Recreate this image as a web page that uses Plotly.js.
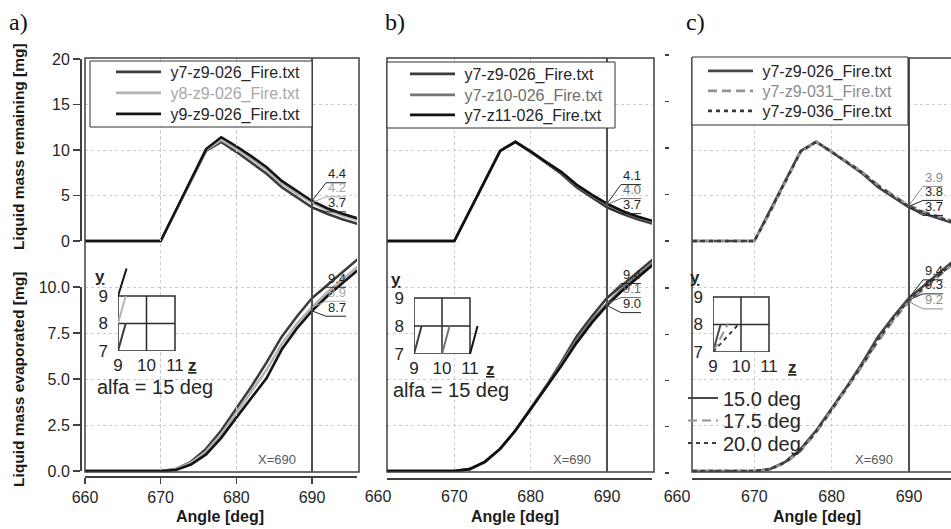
<!DOCTYPE html>
<html><head><meta charset="utf-8">
<script src="https://cdn.plot.ly/plotly-3.0.1.min.js"></script>
<style>body{margin:0;background:#fff}#chart{width:951px;height:529px}</style>
</head><body><div id="chart"></div>
<script>
// ---------------- DATA ----------------
const angle = [660, 670, 672, 674, 676, 678, 680, 682, 684, 686, 688, 690, 692, 694, 696];

// Liquid mass remaining [mg]
const rem_y7z9_026  = [0, 0, 3.3, 6.6, 9.9, 10.9, 9.8, 8.6, 7.4, 5.9, 4.8, 3.7, 3.0, 2.4, 1.9];
const rem_y8z9_026  = [0, 0, 3.3, 6.65, 10.0, 11.1, 10.1, 9.0, 7.8, 6.3, 5.2, 4.2, 3.4, 2.8, 2.3];
const rem_y9z9_026  = [0, 0, 3.35, 6.7, 10.1, 11.4, 10.4, 9.3, 8.1, 6.6, 5.5, 4.4, 3.6, 3.0, 2.5];
const rem_y7z10_026 = [0, 0, 3.3, 6.6, 9.9, 10.9, 9.8, 8.65, 7.55, 6.1, 5.0, 4.0, 3.2, 2.6, 2.1];
const rem_y7z11_026 = [0, 0, 3.3, 6.6, 9.9, 10.9, 9.85, 8.7, 7.6, 6.2, 5.1, 4.1, 3.3, 2.7, 2.2];
const rem_y7z9_031  = [0, 0, 3.1, 6.4, 9.8, 10.9, 9.85, 8.7, 7.55, 6.15, 5.0, 3.9, 3.2, 2.6, 2.1];
const rem_y7z9_036  = [0, 0, 3.2, 6.5, 9.85, 10.9, 9.8, 8.65, 7.5, 6.05, 4.9, 3.8, 3.1, 2.5, 2.0];

// Liquid mass evaporated [mg]
const evap_y7z9_026  = [0, 0, 0.1, 0.5, 1.2, 2.2, 3.4, 4.6, 5.9, 7.3, 8.4, 9.4, 10.1, 10.8, 11.5];
const evap_y8z9_026  = [0, 0, 0.08, 0.45, 1.05, 2.0, 3.15, 4.3, 5.5, 6.9, 8.0, 8.9, 9.7, 10.4, 11.1];
const evap_y9z9_026  = [0, 0, 0.05, 0.35, 0.9, 1.8, 2.9, 3.95, 5.05, 6.6, 7.75, 8.7, 9.5, 10.2, 10.9];
const evap_y7z10_026 = [0, 0, 0.1, 0.5, 1.2, 2.2, 3.4, 4.55, 5.8, 7.1, 8.2, 9.1, 9.9, 10.6, 11.3];
const evap_y7z11_026 = [0, 0, 0.1, 0.5, 1.2, 2.2, 3.35, 4.5, 5.7, 6.95, 8.05, 9.0, 9.8, 10.5, 11.2];
const evap_y7z9_031  = [0, 0, 0.08, 0.45, 1.1, 2.1, 3.3, 4.5, 5.75, 7.05, 8.2, 9.2, 9.95, 10.65, 11.35];
const evap_y7z9_036  = [0, 0, 0.09, 0.48, 1.15, 2.15, 3.35, 4.55, 5.8, 7.15, 8.3, 9.3, 10.0, 10.7, 11.4];

const xTickVals = [660, 670, 680, 690];
const remTickVals = [0, 5, 10, 15, 20];
const evapTickVals = [0, 2.5, 5, 7.5, 10];
const evapTickText = ['0.0', '2.5', '5.0', '7.5', '10.0'];
const cursorX = 690;

// inset: y/z cell grid and spray direction segments
const gridBoxZ = [9, 11, 11, 9, 9];
const gridBoxY = [7, 7, 9, 9, 7];
const gridInnerZ = [10, 10, null, 9, 11];
const gridInnerY = [7, 9, null, 8, 8];
const insetTickZ = [9, 10, 11];
const insetTickY = [7, 8, 9];
const dirA_z0 = [9, 9, 9],   dirA_y0 = [7, 8, 9],  dirA_z1 = [9.27, 9.27, 9.3],    dirA_y1 = [8, 9, 10];
const dirB_z0 = [9, 10, 11], dirB_y0 = [7, 7, 7],  dirB_z1 = [9.27, 10.27, 11.27], dirB_y1 = [8, 8, 8];
const dirC_z0 = [9, 9, 9],   dirC_y0 = [7, 7, 7],  dirC_z1 = [9.27, 9.55, 9.95],   dirC_y1 = [8, 8.05, 8.05];
const angleNames = ['15.0 deg', '17.5 deg', '20.0 deg'];

const seriesA = [
  {name: 'y7-z9-026_Fire.txt', rem: rem_y7z9_026, evap: evap_y7z9_026},
  {name: 'y8-z9-026_Fire.txt', rem: rem_y8z9_026, evap: evap_y8z9_026},
  {name: 'y9-z9-026_Fire.txt', rem: rem_y9z9_026, evap: evap_y9z9_026}
];
const seriesB = [
  {name: 'y7-z9-026_Fire.txt',  rem: rem_y7z9_026,  evap: evap_y7z9_026},
  {name: 'y7-z10-026_Fire.txt', rem: rem_y7z10_026, evap: evap_y7z10_026},
  {name: 'y7-z11-026_Fire.txt', rem: rem_y7z11_026, evap: evap_y7z11_026}
];
const seriesC = [
  {name: 'y7-z9-026_Fire.txt', rem: rem_y7z9_026, evap: evap_y7z9_026},
  {name: 'y7-z9-031_Fire.txt', rem: rem_y7z9_031, evap: evap_y7z9_031},
  {name: 'y7-z9-036_Fire.txt', rem: rem_y7z9_036, evap: evap_y7z9_036}
];

// ---------------- STYLE / LAYOUT ----------------
const W = 951, H = 529;
const px = v => v / W;
const py = v => 1 - v / H;
const FONT = 'Liberation Sans, Arial, sans-serif';
const DARK = '#262626';
const NB = '\u00a0';

const stylesA = [
  {color: '#3c3c3c', dash: 'solid', text: DARK},
  {color: '#b4b4b4', dash: 'solid', text: '#a8a8a8'},
  {color: '#141414', dash: 'solid', text: DARK}
];
const stylesB = [
  {color: '#3c3c3c', dash: 'solid', text: DARK},
  {color: '#767676', dash: 'solid', text: '#6e6e6e'},
  {color: '#101010', dash: 'solid', text: DARK}
];
const stylesC = [
  {color: '#484848', dash: 'solid', text: DARK},
  {color: '#939393', dash: '9px,5px', text: '#8c8c8c'},
  {color: '#3c3c3c', dash: '4px,4px', text: DARK}
];

const frameTop = 58, frameBot = 472;
const remZeroPx = 241, remPPU = 9.1;
const evapZeroPx = 471, evapPPU = 18.4;
const remRange = [-(frameBot - remZeroPx) / remPPU, (remZeroPx - frameTop) / remPPU];
const evapRange = [-(frameBot - evapZeroPx) / evapPPU, (evapZeroPx - frameTop) / evapPPU];

const panels = [
  {x: 'x',  xl: 'xaxis',  yT: 'y',  yTl: 'yaxis',  yB: 'y2', yBl: 'yaxis2', px660: 85,  ppd: 7.567, left: 85,  right: 357, axisLine: 476,
   series: seriesA, styles: stylesA, dirs: [dirA_z0, dirA_y0, dirA_z1, dirA_y1],
   legBox: [90, 312, 61, 127], legX: 111, legY: [72, 93, 114],
   inset: {xa: 'x6', ya: 'y11', gl: 118, gb: 351, cw: 28.5, ch: 27.5, zLab: 17}, letter: 'a)', letterX: 7, titleX: 220, alfa: true},
  {x: 'x2', xl: 'xaxis2', yT: 'y3', yTl: 'yaxis3', yB: 'y4', yBl: 'yaxis4', px660: 378, ppd: 7.633, left: 387, right: 652, axisLine: 478,
   series: seriesB, styles: stylesB, dirs: [dirB_z0, dirB_y0, dirB_z1, dirB_y1],
   legBox: [387, 615, 62, 128], legX: 405, legY: [74, 95, 115],
   inset: {xa: 'x7', ya: 'y12', gl: 414, gb: 354, cw: 28, ch: 28, zLab: 20}, letter: 'b)', letterX: 383, titleX: 515, alfa: true},
  {x: 'x3', xl: 'xaxis3', yT: 'y5', yTl: 'yaxis5', yB: 'y6', yBl: 'yaxis6', px660: 677, ppd: 7.733, left: 692, right: 951, axisLine: 478,
   series: seriesC, styles: stylesC, dirs: [dirC_z0, dirC_y0, dirC_z1, dirC_y1],
   legBox: [692, 908, 57, 125], legX: 703, legY: [71, 91, 111],
   inset: {xa: 'x8', ya: 'y13', gl: 713, gb: 352, cw: 28, ch: 27.5, zLab: 23}, letter: 'c)', letterX: 684, titleX: 817, alfa: false}
];

const traces = [];
const shapes = [];
const boxShapes = [];
const calloutShapes = [];
const annotations = [];
const layout = {
  width: W, height: H, margin: {l: 0, r: 0, t: 0, b: 0},
  paper_bgcolor: '#fff', plot_bgcolor: 'rgba(0,0,0,0)',
  font: {family: FONT, color: DARK, size: 14},
  showlegend: true
};
let legendCount = 0;
function newLegend(cfg) {
  legendCount += 1;
  const id = legendCount === 1 ? 'legend' : 'legend' + legendCount;
  layout[id] = Object.assign({xanchor: 'left', yanchor: 'middle', bgcolor: 'rgba(0,0,0,0)', borderwidth: 0,
    tracegroupgap: 0}, cfg);
  return id;
}

const gridStyle = {showgrid: true, gridcolor: '#cdcdcd', griddash: 'dot', gridwidth: 1, zeroline: false};

panels.forEach((p, pi) => {
  const xr = [660 + (p.left - p.px660) / p.ppd, 660 + (p.right - p.px660) / p.ppd];
  const dom = [px(p.left), Math.min(1, px(p.right))];
  const isA = pi === 0;
  layout[p.xl] = Object.assign({
    domain: dom, range: xr, anchor: 'free', position: py(p.axisLine),
    tickvals: xTickVals, showline: true, linecolor: '#404040', linewidth: 1.5,
    ticks: isA ? 'outside' : '', ticklen: 6, tickwidth: 1.5, tickcolor: '#404040',
    showticklabels: isA, tickfont: {size: 16}
  }, gridStyle);
  layout[p.yTl] = Object.assign({
    domain: [py(frameBot), py(frameTop)], range: remRange, anchor: p.x,
    tickvals: [5, 10, 15], showticklabels: false, ticks: '', showline: false
  }, gridStyle);
  layout[p.yBl] = Object.assign({
    domain: [py(frameBot), py(frameTop)], range: evapRange, anchor: p.x, overlaying: p.yT,
    tickvals: [2.5, 5, 7.5, 10], showticklabels: false, ticks: '', showline: false
  }, gridStyle);

  // curves
  p.series.forEach((s, si) => {
    const st = p.styles[si];
    const lg = newLegend({x: px(p.legX), y: py(p.legY[si]), itemwidth: 45,
      font: {family: FONT, size: 16, color: DARK}});
    traces.push({type: 'scatter', mode: 'lines', x: angle, y: s.rem, xaxis: p.x, yaxis: p.yT,
      name: NB + '<span style="color:' + st.text + '">' + s.name + '</span>', legend: lg,
      line: {color: st.color, width: 2.6, dash: st.dash}, hoverinfo: 'skip'});
    traces.push({type: 'scatter', mode: 'lines', x: angle, y: s.evap, xaxis: p.x, yaxis: p.yB,
      showlegend: false, line: {color: st.color, width: 2.6, dash: st.dash}, hoverinfo: 'skip'});
  });

  // frame + cursor
  shapes.push({type: 'rect', xref: 'paper', yref: 'paper', x0: px(p.left), x1: px(p.right + 2),
    y0: py(frameBot), y1: py(frameTop), line: {color: '#404040', width: 1.5}, layer: 'above'});
  shapes.push({type: 'line', xref: p.x, yref: 'paper', x0: cursorX, x1: cursorX,
    y0: py(frameBot), y1: py(frameTop), line: {color: '#505050', width: 2}, layer: 'above'});
  // legend box
  boxShapes.push({type: 'rect', xref: 'paper', yref: 'paper', x0: px(p.legBox[0]), x1: px(p.legBox[1]),
    y0: py(p.legBox[3]), y1: py(p.legBox[2]), fillcolor: '#fff', line: {color: '#303030', width: 1}, layer: 'above'});
  annotations.push({xref: p.x, yref: 'paper', x: cursorX, y: py(459), xanchor: 'right', yanchor: 'middle',
    xshift: -14, text: 'X=' + cursorX, showarrow: false, font: {size: 13, color: '#5a5a5a'}});

  // value call-outs at the cursor
  const idx = angle.indexOf(cursorX);
  [['rem', p.yT, remPPU], ['evap', p.yB, evapPPU]].forEach(([key, yref, ppu]) => {
    const items = p.series.map((s, si) => ({v: s[key][idx], c: p.styles[si].text}))
      .sort((a, b) => b.v - a.v);
    const mid = items[1].v * ppu;
    const offs = [20, 6, -9];
    items.forEach((it, k) => {
      const dy = mid + offs[k] - it.v * ppu;
      calloutShapes.push({type: 'path', xref: p.x, yref: yref, xsizemode: 'pixel', ysizemode: 'pixel',
        xanchor: cursorX, yanchor: it.v, path: 'M0,0L14,' + dy.toFixed(1) + 'L34,' + dy.toFixed(1),
        line: {color: it.c, width: 1}, layer: 'above'});
      annotations.push({xref: p.x, yref: yref, x: cursorX, y: it.v, xanchor: 'left', yanchor: 'bottom',
        xshift: 15, yshift: dy + 0.5, text: it.v.toFixed(1), showarrow: false, borderpad: 0,
        font: {size: 13, color: it.c}});
    });
  });

  // panel letter and x title
  annotations.push({xref: 'paper', yref: 'paper', x: px(p.letterX), y: py(22), xanchor: 'left', yanchor: 'middle',
    text: p.letter, showarrow: false, font: {family: 'Liberation Serif, Times New Roman, serif', size: 24, color: '#111'}});
  annotations.push({xref: 'paper', yref: 'paper', x: px(p.titleX), y: py(516), xanchor: 'center', yanchor: 'middle',
    text: '<b>Angle [deg]</b>', showarrow: false, font: {size: 16, color: '#1a1a1a'}});

  // inset y/z diagram
  const ins = p.inset;
  const ixl = 'xaxis' + ins.xa.slice(1), iyl = 'yaxis' + ins.ya.slice(1);
  layout[ixl] = {domain: [px(ins.gl), px(ins.gl + 2.5 * ins.cw)], range: [9, 11.5], anchor: ins.ya,
    tickvals: insetTickZ, ticks: '', showline: false, showgrid: false, zeroline: false,
    tickfont: {size: 17, color: DARK}, ticklabelstandoff: 2};
  layout[iyl] = {domain: [py(ins.gb), py(ins.gb - 3.1 * ins.ch)], range: [7, 10.1], anchor: ins.xa,
    tickvals: insetTickY, ticks: '', showline: false, showgrid: false, zeroline: false,
    tickfont: {size: 17, color: DARK}, ticklabelstandoff: 9};
  traces.push({type: 'scatter', mode: 'lines', x: gridBoxZ, y: gridBoxY, xaxis: ins.xa, yaxis: ins.ya,
    fill: 'toself', fillcolor: '#fff', line: {color: '#2a2a2a', width: 1.5}, showlegend: false, hoverinfo: 'skip'});
  traces.push({type: 'scatter', mode: 'lines', x: gridInnerZ, y: gridInnerY, xaxis: ins.xa, yaxis: ins.ya,
    line: {color: '#2a2a2a', width: 1.5}, showlegend: false, hoverinfo: 'skip', connectgaps: false});
  const [z0, y0, z1, y1] = p.dirs;
  z0.forEach((_, k) => {
    const st = p.styles[k];
    const tr = {type: 'scatter', mode: 'lines', x: [z0[k], z1[k]], y: [y0[k], y1[k]], xaxis: ins.xa, yaxis: ins.ya,
      line: {color: st.color, width: 2, dash: st.dash}, showlegend: false, hoverinfo: 'skip'};
    if (pi === 2) {
      tr.showlegend = true;
      tr.name = angleNames[k];
      tr.legend = newLegend({x: px(683), y: py(398 + 22.5 * k), itemwidth: 30,
        font: {family: FONT, size: 20, color: DARK}});
    }
    traces.push(tr);
  });
  annotations.push({xref: 'paper', yref: 'paper', x: px(ins.gl - 18), y: py(ins.gb - 75), xanchor: 'center', yanchor: 'middle',
    text: '<b><u>y</u></b>', showarrow: false, font: {size: 17, color: DARK}});
  annotations.push({xref: 'paper', yref: 'paper', x: px(ins.gl + 2 * ins.cw + ins.zLab), y: py(ins.gb + 15), xanchor: 'center', yanchor: 'middle',
    text: '<b><u>z</u></b>', showarrow: false, font: {size: 17, color: DARK}});
  if (p.alfa) {
    annotations.push({xref: 'paper', yref: 'paper', x: px(ins.gl - 23), y: py(ins.gb + 36), xanchor: 'left', yanchor: 'middle',
      text: 'alfa = 15 deg', showarrow: false, font: {size: 20, color: DARK}});
  }
});

// tick-label axes of panel b and c (660 lies left of their frames)
layout.xaxis4 = {domain: [px(378), px(652)], range: [660, 660 + (652 - 378) / 7.633], anchor: 'free', position: py(478),
  tickvals: xTickVals, ticks: 'outside', ticklen: 4, tickcolor: 'rgba(0,0,0,0)', showline: false, showgrid: false,
  zeroline: false, tickfont: {size: 16}};
layout.xaxis5 = {domain: [px(677), 1], range: [660, 660 + (951 - 677) / 7.733], anchor: 'free', position: py(478),
  tickvals: xTickVals, ticks: 'outside', ticklen: 4, tickcolor: 'rgba(0,0,0,0)', showline: false, showgrid: false,
  zeroline: false, tickfont: {size: 16}};
// y spines of panel a
layout.yaxis7 = {domain: [py(241), py(59)], range: [0, 20], anchor: 'free', position: px(80), tickvals: remTickVals,
  showline: true, linecolor: '#404040', linewidth: 1.5, ticks: 'outside', ticklen: 7, tickwidth: 1.5, tickcolor: '#404040',
  showgrid: false, zeroline: false, tickfont: {size: 16}};
layout.yaxis8 = {domain: [py(471), py(287)], range: [0, 10], anchor: 'free', position: px(80), tickvals: evapTickVals,
  ticktext: evapTickText, showline: true, linecolor: '#404040', linewidth: 1.5, ticks: 'outside', ticklen: 7, tickwidth: 1.5,
  tickcolor: '#404040', showgrid: false, zeroline: false, tickfont: {size: 16}};
// tick dashes of panel c
layout.yaxis9 = {domain: [py(241), py(55)], range: [0, 20], anchor: 'free', position: px(669), tickvals: remTickVals,
  showline: false, ticks: 'outside', ticklen: 4, tickwidth: 1.2, tickcolor: '#404040', showticklabels: false, showgrid: false, zeroline: false};
layout.yaxis10 = {domain: [py(473), py(288)], range: [0, 10], anchor: 'free', position: px(669), tickvals: evapTickVals,
  showline: false, ticks: 'outside', ticklen: 4, tickwidth: 1.2, tickcolor: '#404040', showticklabels: false, showgrid: false, zeroline: false};

[['x', 'y7'], ['x', 'y8'], ['x4', 'y7'], ['x5', 'y9'], ['x5', 'y10']].forEach(([xa, ya]) => {
  traces.push({type: 'scatter', mode: 'lines', x: [], y: [], xaxis: xa, yaxis: ya, showlegend: false, hoverinfo: 'skip'});
});

annotations.push({xref: 'paper', yref: 'paper', x: px(18), y: py(147), textangle: -90, xanchor: 'center', yanchor: 'middle',
  text: '<b>Liquid mass remaining [mg]</b>', showarrow: false, font: {size: 15.5, color: '#1a1a1a'}});
annotations.push({xref: 'paper', yref: 'paper', x: px(18), y: py(380), textangle: -90, xanchor: 'center', yanchor: 'middle',
  text: '<b>Liquid mass evaporated [mg]</b>', showarrow: false, font: {size: 15.5, color: '#1a1a1a'}});

layout.shapes = shapes.concat(boxShapes, calloutShapes);
layout.annotations = annotations;

Plotly.newPlot('chart', traces, layout, {staticPlot: true, displayModeBar: false});
</script>
</body></html>
